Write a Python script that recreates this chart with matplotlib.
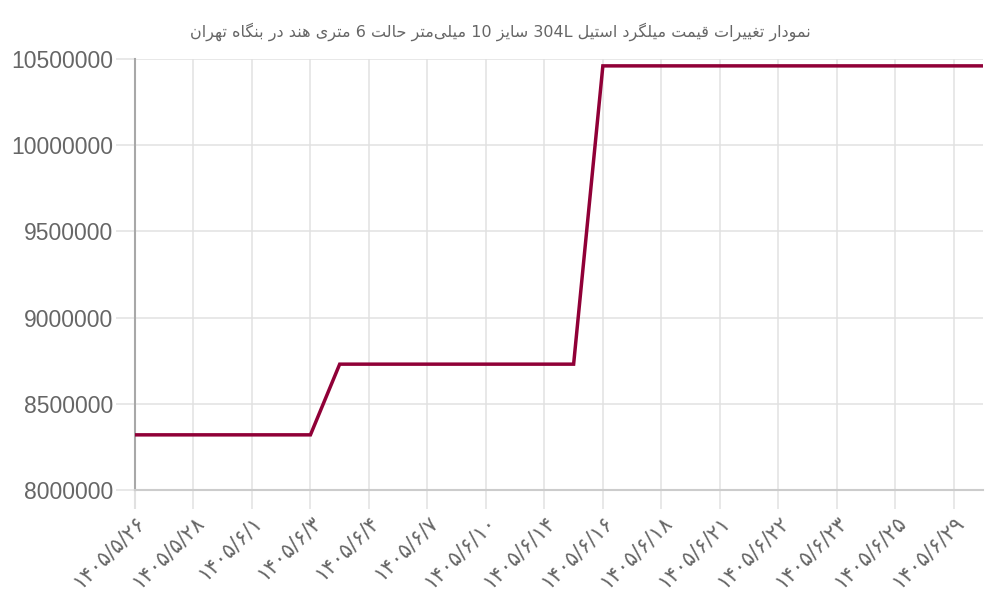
import numpy as np
import matplotlib
matplotlib.use('Agg')
import matplotlib.pyplot as plt

title = 'نمودار تغییرات قیمت میلگرد استیل 304L سایز 10 میلی\u200cمتر حالت 6 متری هند در بنگاه تهران'

# تاریخ‌هایی که روی محور نمایش داده شده‌اند (هر دو نقطه یکی)
date_labels = ['۱۴۰۵/۵/۲۶', '۱۴۰۵/۵/۲۸', '۱۴۰۵/۶/۱', '۱۴۰۵/۶/۳', '۱۴۰۵/۶/۴',
               '۱۴۰۵/۶/۷', '۱۴۰۵/۶/۱۰', '۱۴۰۵/۶/۱۴', '۱۴۰۵/۶/۱۶', '۱۴۰۵/۶/۱۸',
               '۱۴۰۵/۶/۲۱', '۱۴۰۵/۶/۲۲', '۱۴۰۵/۶/۲۳', '۱۴۰۵/۶/۲۵', '۱۴۰۵/۶/۲۹']

prices = [8320000, 8320000, 8320000, 8320000, 8320000, 8320000, 8320000,
          8730000, 8730000, 8730000, 8730000, 8730000, 8730000, 8730000,
          8730000, 8730000,
          10460000, 10460000, 10460000, 10460000, 10460000, 10460000,
          10460000, 10460000, 10460000, 10460000, 10460000, 10460000,
          10460000, 10460000]

y_ticks = [8000000, 8500000, 9000000, 9500000, 10000000, 10500000]

# شکل‌دهی ساده حروف فارسی (matplotlib خودش حروف را به هم وصل نمی‌کند)
FORMS = {
    'ا': ('\uFE8D', '\uFE8E', None, None),
    'ب': ('\uFE8F', '\uFE90', '\uFE91', '\uFE92'),
    'ت': ('\uFE95', '\uFE96', '\uFE97', '\uFE98'),
    'ح': ('\uFEA1', '\uFEA2', '\uFEA3', '\uFEA4'),
    'د': ('\uFEA9', '\uFEAA', None, None),
    'ر': ('\uFEAD', '\uFEAE', None, None),
    'ز': ('\uFEAF', '\uFEB0', None, None),
    'س': ('\uFEB1', '\uFEB2', '\uFEB3', '\uFEB4'),
    'غ': ('\uFECD', '\uFECE', '\uFECF', '\uFED0'),
    'ق': ('\uFED5', '\uFED6', '\uFED7', '\uFED8'),
    'ل': ('\uFEDD', '\uFEDE', '\uFEDF', '\uFEE0'),
    'م': ('\uFEE1', '\uFEE2', '\uFEE3', '\uFEE4'),
    'ن': ('\uFEE5', '\uFEE6', '\uFEE7', '\uFEE8'),
    'ه': ('\uFEE9', '\uFEEA', '\uFEEB', '\uFEEC'),
    'و': ('\uFEED', '\uFEEE', None, None),
    'ی': ('\uFBFC', '\uFBFD', '\uFBFE', '\uFBFF'),
    'گ': ('\uFB92', '\uFB93', '\uFB94', '\uFB95'),
}


def shape_word(w):
    out = []
    for i, c in enumerate(w):
        if c not in FORMS:
            if c != '\u200c':
                out.append(c)
            continue
        prev = w[i - 1] if i > 0 else None
        nxt = w[i + 1] if i + 1 < len(w) else None
        jp = prev in FORMS and FORMS[prev][2] is not None
        jn = FORMS[c][2] is not None and nxt in FORMS
        f = FORMS[c]
        if jp and jn:
            out.append(f[3])
        elif jp:
            out.append(f[1])
        elif jn:
            out.append(f[2])
        else:
            out.append(f[0])
    return ''.join(out[::-1])


def rtl(s):
    words = s.split(' ')
    res = []
    for w in words[::-1]:
        if any(c in FORMS for c in w):
            res.append(shape_word(w))
        else:
            res.append(w)
    return ' '.join(res)


x = np.arange(len(prices))

fig = plt.figure(figsize=(10, 6), dpi=100)
ax = fig.add_axes([0.135, 0.1833, 0.848, 0.7184])

ax.plot(x, prices, color='#900037', linewidth=2.5, solid_joinstyle='miter', zorder=3)

ax.set_xlim(0, len(prices) - 1)
ax.set_ylim(8000000, 10500000)
ax.set_yticks(y_ticks)
ax.set_yticklabels([str(v) for v in y_ticks])
ax.set_xticks(x[::2])
ax.set_xticklabels(date_labels, rotation=45, ha='right', rotation_mode='anchor',
                   family=['DejaVu Sans'], fontsize=15, color='#666666')

for lab in ax.get_yticklabels():
    lab.set_family(['Liberation Sans', 'DejaVu Sans'])
    lab.set_fontsize(16.5)
    lab.set_color('#666666')

ax.grid(True, color='#e1e1e1', linewidth=1.1)
ax.set_axisbelow(True)
ax.tick_params(axis='both', length=14, width=1.1, color='#e1e1e1', pad=2)

for s in ['top', 'right']:
    ax.spines[s].set_visible(False)
ax.spines['left'].set_color('#a8a8a8')
ax.spines['left'].set_linewidth(1.5)
ax.spines['bottom'].set_color('#cccccc')
ax.spines['bottom'].set_linewidth(1.5)
first = ax.xaxis.get_major_ticks()[0]
first.tick1line.set_color('#a8a8a8')
first.tick1line.set_markeredgewidth(1.5)

fig.text(0.5, 0.948, rtl(title), ha='center', va='center', fontsize=11.5,
         color='#666666', family=['DejaVu Sans'])

fig.savefig('out.png', dpi=100)
